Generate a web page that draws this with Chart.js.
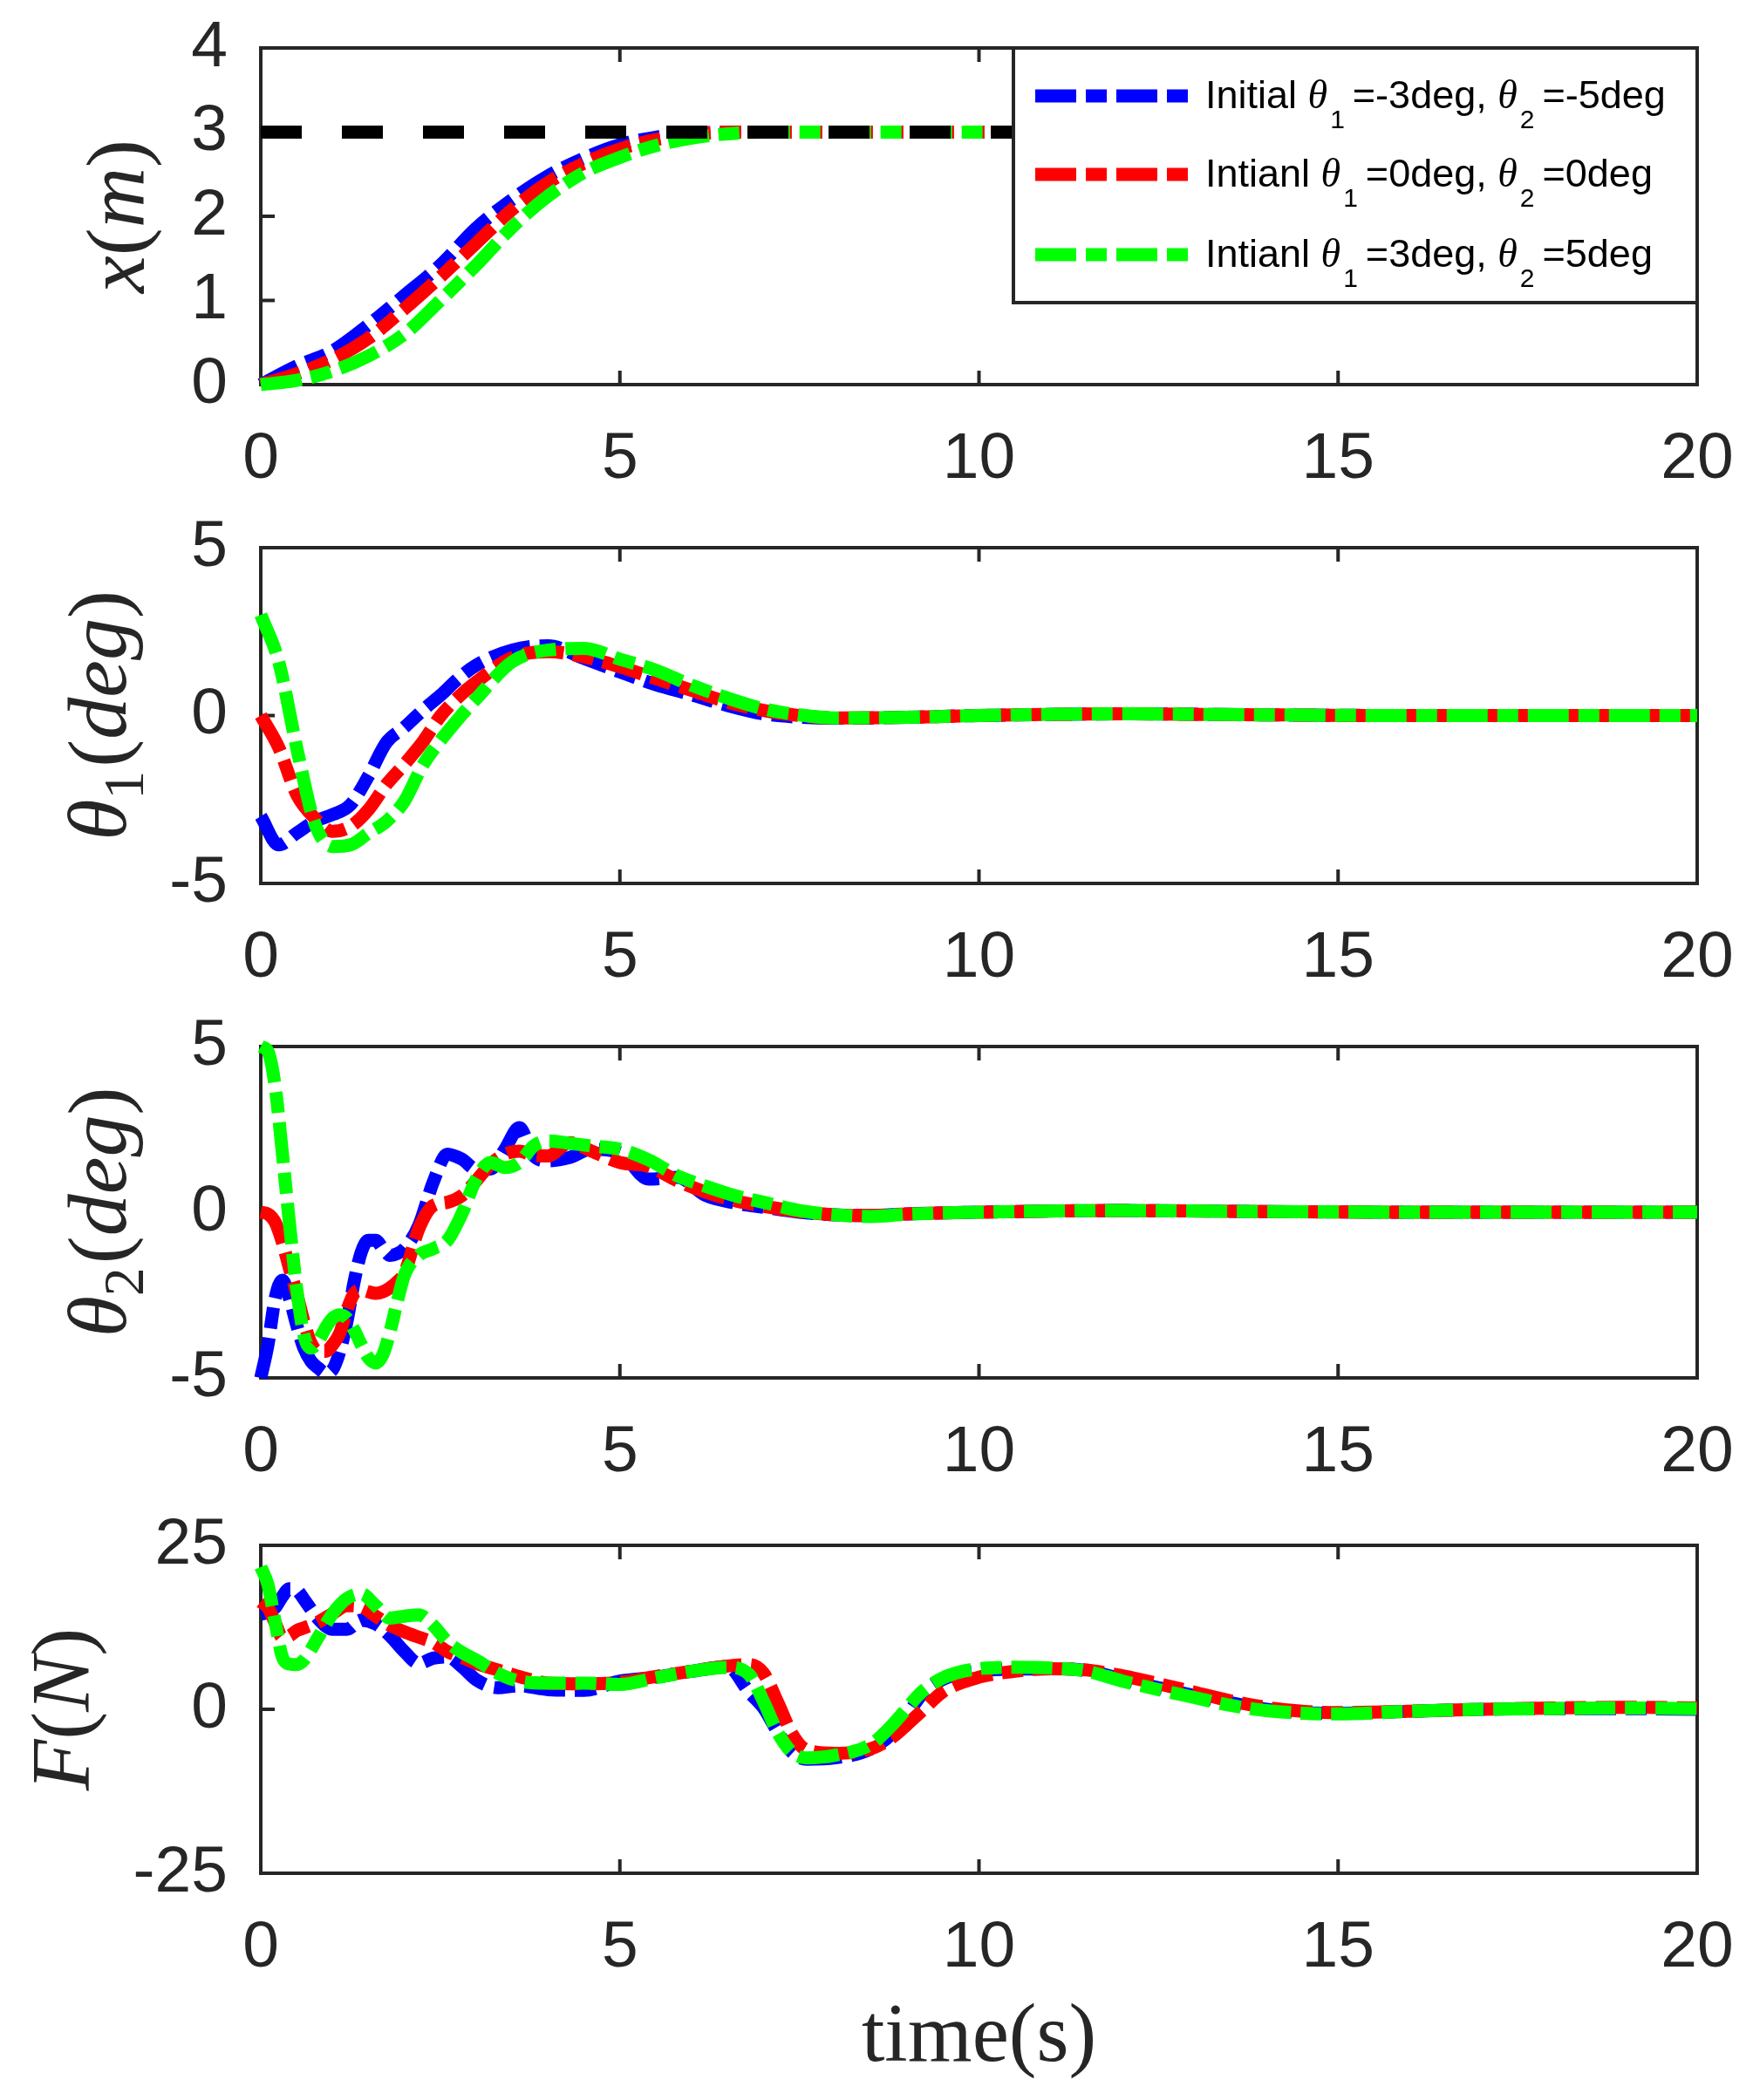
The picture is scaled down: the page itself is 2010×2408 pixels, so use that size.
<!DOCTYPE html>
<html>
<head>
<meta charset="utf-8">
<script src="https://cdn.jsdelivr.net/npm/chart.js@4.4.0/dist/chart.umd.min.js"></script>
<style>
html,body{margin:0;padding:0;background:#fff;}
#wrap{position:relative;width:2010px;height:2408px;background:#fff;overflow:hidden;}
canvas{position:absolute;left:0;}
</style>
</head>
<body>
<div id="wrap">
<canvas id="c1"></canvas>
<canvas id="c2"></canvas>
<canvas id="c3"></canvas>
<canvas id="c4"></canvas>
</div>
<script>
// ---------------- DATA ----------------
const seriesNames = ['Initial θ_1=-3deg, θ_2=-5deg', 'Intianl θ_1=0deg, θ_2=0deg', 'Intianl θ_1=3deg, θ_2=5deg'];
const yLabels = ['x(m)', 'θ_1(deg)', 'θ_2(deg)', 'F(N)'];
const xLabel = 'time(s)';
const xTickStep = 5;

// subplot 1 : cart position x (m)
const tX = [0,0.5,1,1.5,2,2.5,3,3.5,4,4.5,5,5.5,6,6.5,7,8,10,12,14,16,18,20];
const xBlue  = [0,0.22,0.40,0.71,1.06,1.42,1.86,2.20,2.48,2.69,2.85,2.94,2.98,3.0,3.0,3.0,3.0,3.0,3.0,3.0,3.0,3.0];
const xRed   = [0,0.13,0.30,0.55,0.90,1.28,1.68,2.08,2.40,2.63,2.80,2.91,2.97,3.0,3.0,3.0,3.0,3.0,3.0,3.0,3.0,3.0];
const xGreen = [0,0.05,0.16,0.34,0.60,1.00,1.42,1.87,2.24,2.52,2.70,2.84,2.93,2.98,3.0,3.0,3.0,3.0,3.0,3.0,3.0,3.0];
const refT = [0,20];
const refX = [3,3];

// subplot 2 : theta1 (deg)
const tTh1 = [0,0.25,0.5,0.75,1,1.25,1.5,1.75,2,2.25,2.5,2.75,3,3.5,4,4.5,5,5.5,6,6.5,7,7.5,8,9,10,12,14,16,18,20];
const th1Blue  = [-3.0,-3.85,-3.5,-3.15,-2.95,-2.65,-1.8,-0.8,-0.35,0.15,0.6,1.1,1.5,1.95,2.08,1.7,1.3,0.92,0.62,0.3,0.05,-0.05,-0.08,-0.05,0,0.05,0.02,0,0,0];
const th1Red   = [0,-0.95,-2.35,-3.05,-3.45,-3.3,-2.8,-2.05,-1.45,-0.8,-0.02,0.55,1.0,1.72,1.9,1.75,1.45,1.1,0.75,0.4,0.15,0.0,-0.07,-0.05,0,0.05,0.02,0,0,0];
const th1Green = [3.0,1.6,-0.95,-3.2,-3.9,-3.85,-3.5,-3.15,-2.55,-1.5,-0.75,-0.1,0.5,1.6,1.95,2.0,1.68,1.35,0.9,0.52,0.2,0.02,-0.07,-0.05,0,0.05,0.02,0,0,0];

// subplot 3 : theta2 (deg)
const tTh2 = [0,0.1,0.2,0.3,0.4,0.5,0.6,0.7,0.8,0.9,1.0,1.1,1.2,1.3,1.4,1.5,1.6,1.7,1.8,1.9,2.0,2.2,2.4,2.6,2.8,3.0,3.2,3.4,3.6,3.8,4.0,4.3,4.6,5.0,5.4,5.8,6.2,6.6,7.0,7.5,8,8.5,9,10,12,14,16,18,20];
const th2Blue  = [-5.0,-4.0,-2.6,-2.05,-2.6,-3.4,-4.1,-4.5,-4.7,-4.85,-4.75,-4.2,-3.3,-2.1,-1.2,-0.85,-0.85,-1.1,-1.3,-1.25,-1.1,-0.4,0.9,1.75,1.6,1.3,1.3,1.9,2.55,1.7,1.55,1.65,1.9,1.8,1.0,1.05,0.5,0.28,0.15,0.0,-0.08,-0.1,-0.05,0,0.05,0.02,0,0,0];
const th2Red   = [0,-0.05,-0.3,-0.9,-1.7,-2.45,-3.3,-3.95,-4.2,-4.2,-4.0,-3.65,-2.95,-2.45,-2.35,-2.4,-2.45,-2.4,-2.28,-2.1,-1.84,-0.5,0.2,0.3,0.5,0.95,1.45,1.75,1.84,1.72,1.7,2.1,1.85,1.5,1.38,0.95,0.6,0.35,0.18,0.02,-0.08,-0.1,-0.05,0,0.05,0.02,0,0,0];
const th2Green = [5.0,4.85,3.8,1.8,-0.35,-2.3,-3.7,-4.1,-3.9,-3.5,-3.2,-3.1,-3.2,-3.55,-4.0,-4.4,-4.55,-4.3,-3.6,-2.7,-1.9,-1.3,-1.1,-0.85,-0.05,1.0,1.5,1.35,1.5,2.0,2.15,2.08,2.0,1.9,1.58,1.1,0.78,0.5,0.3,0.05,-0.08,-0.13,-0.06,0,0.05,0.02,0,0,0];

// subplot 4 : force F (N)
const tF = [0,0.1,0.2,0.3,0.4,0.5,0.6,0.8,1.0,1.2,1.4,1.6,1.8,2.0,2.2,2.4,2.6,2.8,3.0,3.3,3.6,4.0,4.5,5.0,5.5,6.0,6.5,6.8,7.0,7.2,7.4,7.6,8.0,8.5,8.8,9.0,9.2,9.5,10,10.5,11,11.5,12,12.5,13,13.5,14,14.5,15,16,17,18,19,20];
const fBlue  = [14.5,14.8,15.5,17.2,18.4,18.2,16.8,13.8,12.2,12.2,13.6,13.0,11.2,8.8,7.0,7.8,8.0,6.5,4.5,3.3,3.6,3.0,2.9,4.3,4.9,5.8,6.5,2.6,0.2,-3.5,-6.6,-7.6,-7.4,-6.0,-3.6,-0.9,2.2,4.6,5.9,6.1,6.2,5.9,4.6,3.3,2.1,1.0,0.0,-0.5,-0.6,-0.3,0.0,0.1,0.1,0.0];
const fRed   = [16.4,15.5,13.2,11.0,11.2,12.0,12.4,13.3,14.6,15.8,15.6,14.2,12.8,11.8,11.0,10.2,8.8,7.9,7.0,6.0,5.0,4.0,3.9,4.1,5.0,5.8,6.6,6.8,5.5,1.0,-3.8,-6.2,-6.7,-6.0,-4.2,-2.3,-0.3,2.7,4.9,5.8,6.2,6.0,5.1,3.9,2.6,1.3,0.3,-0.3,-0.5,-0.3,0.0,0.2,0.3,0.2];
const fGreen = [21.7,19.0,13.3,8.0,6.9,6.8,7.5,11.0,14.6,16.9,17.6,15.8,13.9,14.2,14.4,12.8,10.3,8.7,7.5,5.5,4.3,4.0,4.0,3.8,4.8,5.8,6.4,5.3,1.2,-3.6,-6.6,-7.4,-7.0,-5.3,-2.3,0.2,2.6,4.8,6.2,6.4,6.3,5.8,4.3,3.0,1.8,0.6,-0.2,-0.6,-0.7,-0.3,0.0,0.1,0.2,0.1];

// ---------------- STYLE / LAYOUT ----------------
const W = 2010, H = 2408;
const AX_L = 299, AX_R = 1946;
const PLOTS = [{top:55,bot:441},{top:628,bot:1013},{top:1200,bot:1580},{top:1772,bot:2148}];
const PADT = 55, BELOW = 130;
const INK = '#262626';
const COL = ['#0000ff', '#ff0000', '#00ff00'];
const DASH = [47, 11, 24, 11];
const LW = 15;
const SANS = "'Liberation Sans', Arial, sans-serif";
const SERIF = "'Liberation Serif', 'Times New Roman', serif";
Chart.defaults.font.family = SANS;

const pts = (t, v) => t.map((ti, k) => ({x: ti, y: v[k]}));

function series(idx, t, v) {
  return {
    label: seriesNames[idx], data: pts(t, v), borderColor: COL[idx],
    borderWidth: LW, borderDash: DASH, borderCapStyle: 'butt', borderJoinStyle: 'round',
    cubicInterpolationMode: 'monotone', pointRadius: 0, fill: false, clip: false,
    order: 3 - idx
  };
}

function parseRich(str) {
  const out = [];
  for (let k = 0; k < str.length; k++) {
    const c = str[k];
    if (c === '_') { out.push({t: str[k + 1], kind: 'sub'}); k++; }
    else out.push({t: c, kind: /[A-Za-z\u03b8]/.test(c) ? 'let' : 'sym', greek: c === 'θ'});
  }
  return out;
}

function richWidth(ctx, parts, fontOf) {
  let w = 0;
  parts.forEach(p => { const f = fontOf(p); ctx.font = f.font; w += ctx.measureText(p.t).width + (f.after || 0); });
  return w;
}
function drawRich(ctx, parts, x, y, fontOf) {
  let cx = x;
  parts.forEach(p => {
    const f = fontOf(p);
    ctx.font = f.font;
    ctx.fillText(p.t, cx, y + f.dy);
    cx += ctx.measureText(p.t).width + (f.after || 0);
  });
}

const axisFont = p => {
  if (p.kind === 'sub') return {font: `66px ${SERIF}`, dy: 20, after: 4};
  if (p.kind === 'let') return {font: `italic 96px ${SERIF}`, dy: 0};
  return {font: `96px ${SERIF}`, dy: 0};
};
const legendFont = p => {
  if (p.kind === 'sub') return {font: `30px ${SANS}`, dy: 23, after: 9};
  if (p.greek) return {font: `italic 46px ${SERIF}`, dy: 0, after: 3};
  return {font: `45px ${SANS}`, dy: 0};
};

const framePlugin = {
  id: 'frame',
  beforeDatasetsDraw(chart) {
    const {ctx, chartArea: a, scales: {x, y}} = chart;
    ctx.save();
    ctx.strokeStyle = INK;
    ctx.lineWidth = 4;
    ctx.strokeRect(a.left, a.top, a.right - a.left, a.bottom - a.top);
    ctx.beginPath();
    x.ticks.forEach(t => {
      const px = x.getPixelForValue(t.value);
      ctx.moveTo(px, a.bottom); ctx.lineTo(px, a.bottom - 16);
      ctx.moveTo(px, a.top); ctx.lineTo(px, a.top + 16);
    });
    y.ticks.forEach(t => {
      const py = y.getPixelForValue(t.value);
      ctx.moveTo(a.left, py); ctx.lineTo(a.left + 16, py);
      ctx.moveTo(a.right, py); ctx.lineTo(a.right - 16, py);
    });
    ctx.stroke();
    ctx.restore();
  },
  afterDraw(chart, args, opts) {
    const {ctx, chartArea: a} = chart;
    ctx.save();
    ctx.fillStyle = INK;
    ctx.textBaseline = 'alphabetic';
    ctx.textAlign = 'left';
    const parts = parseRich(opts.ylabel);
    const w = richWidth(ctx, parts, axisFont);
    ctx.translate(opts.labelX, (a.top + a.bottom) / 2);
    ctx.rotate(-Math.PI / 2);
    drawRich(ctx, parts, -w / 2, 0, axisFont);
    ctx.restore();
    if (opts.xlabel) {
      ctx.save();
      ctx.fillStyle = INK;
      ctx.font = `95px ${SERIF}`;
      ctx.textAlign = 'center';
      ctx.textBaseline = 'alphabetic';
      ctx.fillText(opts.xlabel, (a.left + a.right) / 2, opts.xlabelY);
      ctx.restore();
    }
    if (opts.legend) {
      const L = 1162, R = a.right, T = a.top, B = 347;
      ctx.save();
      ctx.fillStyle = '#fff';
      ctx.fillRect(L, T, R - L, B - T);
      ctx.strokeStyle = INK; ctx.lineWidth = 4;
      ctx.strokeRect(L, T, R - L, B - T);
      const rows = [110, 200, 292];
      chart.data.datasets.filter(d => d.legendRow !== undefined).forEach(d => {
        const yy = rows[d.legendRow];
        ctx.strokeStyle = d.borderColor; ctx.lineWidth = LW; ctx.lineCap = 'butt';
        ctx.setLineDash(DASH);
        ctx.beginPath(); ctx.moveTo(1187, yy); ctx.lineTo(1363, yy); ctx.stroke();
        ctx.setLineDash([]);
        ctx.fillStyle = '#000';
        ctx.textBaseline = 'alphabetic'; ctx.textAlign = 'left';
        drawRich(ctx, parseRich(d.label), 1382, yy + 14, legendFont);
      });
      ctx.restore();
    }
  }
};

function makeChart(i, spec) {
  const P = PLOTS[i];
  const cvs = document.getElementById('c' + (i + 1));
  const top = P.top - PADT;
  const below = (i === 3) ? (H - P.bot) : BELOW;
  const h = P.bot + below - top;
  cvs.width = W; cvs.height = h;
  cvs.style.top = top + 'px'; cvs.style.width = W + 'px'; cvs.style.height = h + 'px';
  return new Chart(cvs, {
    type: 'line',
    data: {datasets: spec.datasets},
    options: {
      responsive: false, animation: false, devicePixelRatio: 1,
      layout: {padding: {left: 0, right: W - AX_R, top: PADT, bottom: 0}},
      plugins: {
        legend: {display: false}, tooltip: {enabled: false},
        frame: {ylabel: spec.ylabel, labelX: spec.labelX, xlabel: spec.xlabel, xlabelY: spec.xlabelY ? spec.xlabelY - top : 0, legend: spec.legend}
      },
      scales: {
        x: {
          type: 'linear', min: 0, max: 20, offset: false,
          afterFit: s => { s.height = below; s.paddingLeft = 0; s.paddingRight = 0; s.paddingTop = 0; s.paddingBottom = 0; },
          grid: {display: false, drawTicks: false}, border: {display: false},
          ticks: {stepSize: xTickStep, autoSkip: false, maxRotation: 0, padding: 41, color: INK, font: {size: 75}}
        },
        y: {
          type: 'linear', min: spec.ymin, max: spec.ymax,
          afterFit: s => { s.width = AX_L; s.paddingLeft = 0; s.paddingRight = 0; s.paddingTop = 0; s.paddingBottom = 0; },
          grid: {display: false, drawTicks: false}, border: {display: false},
          ticks: {stepSize: spec.ystep, autoSkip: false, padding: 38, color: INK, font: {size: 75}}
        }
      }
    },
    plugins: [framePlugin]
  });
}

const s1 = [series(0, tX, xBlue), series(1, tX, xRed), series(2, tX, xGreen)];
s1.forEach((d, k) => d.legendRow = k);
s1.push({label: 'ref', data: pts(refT, refX), borderColor: '#000000', borderWidth: LW, borderDash: [47, 46],
  borderCapStyle: 'butt', pointRadius: 0, fill: false, clip: false, order: 0});

makeChart(0, {datasets: s1, ymin: 0, ymax: 4, ystep: 1, ylabel: yLabels[0], labelX: 165, legend: true});
makeChart(1, {datasets: [series(0, tTh1, th1Blue), series(1, tTh1, th1Red), series(2, tTh1, th1Green)],
  ymin: -5, ymax: 5, ystep: 5, ylabel: yLabels[1], labelX: 144});
makeChart(2, {datasets: [series(0, tTh2, th2Blue), series(1, tTh2, th2Red), series(2, tTh2, th2Green)],
  ymin: -5, ymax: 5, ystep: 5, ylabel: yLabels[2], labelX: 144});
makeChart(3, {datasets: [series(0, tF, fBlue), series(1, tF, fRed), series(2, tF, fGreen)],
  ymin: -25, ymax: 25, ystep: 25, ylabel: yLabels[3], labelX: 102, xlabel: xLabel, xlabelY: 2363});
</script>
</body>
</html>
